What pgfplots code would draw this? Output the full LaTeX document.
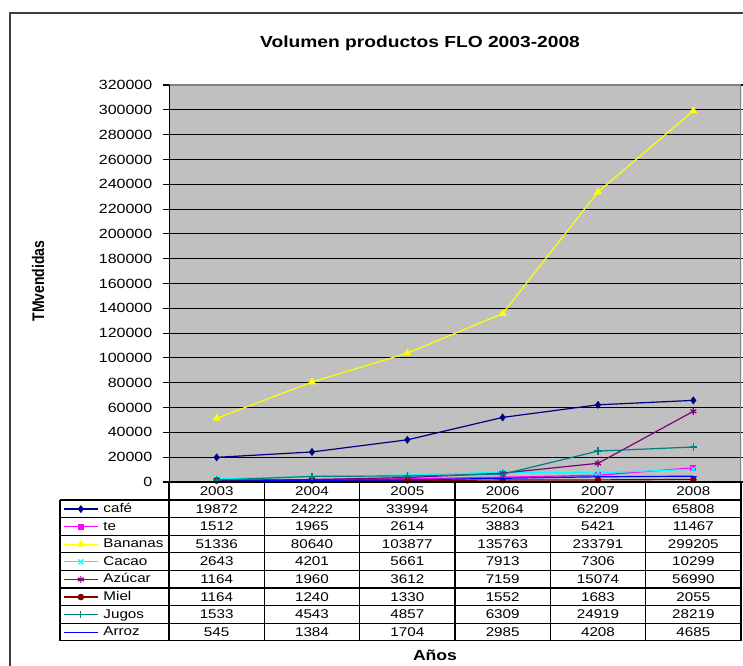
\documentclass[border=0pt]{standalone}
\usepackage{pgfplots}
\pgfplotsset{compat=1.18}
\usepackage{pgfplotstable}
\usepackage{fontspec}
\setmainfont{Liberation Sans}[FakeStretch=1.2]
\newfontfamily\plainsans{Liberation Sans}
\definecolor{excelgray}{HTML}{C0C0C0}
\definecolor{ccafe}{HTML}{000080}
\definecolor{cte}{HTML}{FF00FF}
\definecolor{cban}{HTML}{FFFF00}
\definecolor{ccacao}{HTML}{00FFFF}
\definecolor{cazu}{HTML}{800080}
\definecolor{cmiel}{HTML}{800000}
\definecolor{cjugos}{HTML}{008080}
\definecolor{carroz}{HTML}{0000FF}

\pgfplotstableread{
x cafe te bananas cacao azucar miel jugos arroz
0 19872 1512 51336 2643 1164 1164 1533 545
1 24222 1965 80640 4201 1960 1240 4543 1384
2 33994 2614 103877 5661 3612 1330 4857 1704
3 52064 3883 135763 7913 7159 1552 6309 2985
4 62209 5421 233791 7306 15074 1683 24919 4208
5 65808 11467 299205 10299 56990 2055 28219 4685
}\datatable

\begin{document}
\begin{tikzpicture}
\path[use as bounding box] (0pt,0pt) rectangle (557.25pt,-499.5pt);
\begin{axis}[
  at={(126.75pt,-361.5pt)}, anchor=south west,
  scale only axis, width=429pt, height=297.75pt,
  xmin=-0.5, xmax=5.5, ymin=0, ymax=320000,
  ytick={0,20000,...,320000},
  xtick={0,1,2,3,4,5},
  xticklabels={2003,2004,2005,2006,2007,2008},
  major x tick style={draw=none},
  xticklabel style={anchor=center, yshift=-2pt, font=\fontsize{9.5}{11}\selectfont},
  yticklabel style={font=\fontsize{10}{12}\selectfont, xshift=-4.5pt},
  scaled y ticks=false,
  /pgf/number format/fixed,
  /pgf/number format/1000 sep={},
  /pgf/number format/assume math mode=true,
  axis background/.style={fill=excelgray},
  ymajorgrids, grid style={black, line width=0.8pt},
  tick align=outside, major tick length=4.5pt,
  ytick style={black, line width=0.8pt},
  axis line style={draw=none},
  legend style={at={(axis description cs:-0.1853,-0.04534)}, anchor=north west,
    draw=none, fill=none, inner xsep=0pt, inner ysep=0pt, row sep=0pt, column sep=3.75pt,
    font=\fontsize{9.5}{11}\selectfont,
    nodes={inner sep=0pt, minimum height=13.2pt, text height=7pt, text depth=2pt, anchor=west}},
  legend cell align=left,
  legend image code/.code={\draw[mark repeat=2,mark phase=2,#1] plot coordinates {(0pt,0pt) (12.75pt,0pt) (25.5pt,0pt)};},
  every axis plot/.append style={line width=0.9pt, mark size=2.3pt},
]
\draw[gray, line width=0.8pt] (rel axis cs:0,1) -- (rel axis cs:1,1) -- (rel axis cs:1,0);
\draw[black, line width=1pt] (rel axis cs:0,0) -- (rel axis cs:0,1);
\addplot[ccafe, mark=diamond*] table[x=x,y=cafe] {\datatable};
\addlegendentry{café}
\addplot[cte, mark=square*, mark size=1.8pt] table[x=x,y=te] {\datatable};
\addlegendentry{te}
\addplot[cban, mark=triangle*, mark size=2.6pt] table[x=x,y=bananas] {\datatable};
\addlegendentry{Bananas}
\addplot[ccacao, mark=x, mark size=2.6pt] table[x=x,y=cacao] {\datatable};
\addlegendentry{Cacao}
\addplot[cazu, mark=asterisk, mark size=2.6pt] table[x=x,y=azucar] {\datatable};
\addlegendentry{Azúcar}
\addplot[cmiel, mark=*, mark size=2pt] table[x=x,y=miel] {\datatable};
\addlegendentry{Miel}
\addplot[cjugos, mark=+, mark size=2.8pt] table[x=x,y=jugos] {\datatable};
\addlegendentry{Jugos}
\addplot[carroz, mark=-, mark size=2.5pt] table[x=x,y=arroz] {\datatable};
\addlegendentry{Arroz}
\end{axis}
\begin{scope}[x=0.75pt,y=-0.75pt]
  % outer frame
  \draw[black!75, line width=1.1pt] (10,700) -- (10,13) -- (760,13);
  % title
  \node[font=\fontsize{12}{14}\selectfont\bfseries] at (420,43) {Volumen productos FLO 2003-2008};
  % y label
  \node[rotate=90, font=\plainsans\fontsize{10.5}{12}\selectfont\bfseries] at (38,281) {\scalebox{1}[1.2]{TMvendidas}};
  % x label
  \node[font=\fontsize{11}{13}\selectfont\bfseries] at (435,655) {Años};
  % table grid
  \foreach \k in {0,...,6} {\draw[black, line width=0.9pt] ({169+95.333*\k},482) -- ({169+95.333*\k},640.8);}
  \draw[black, line width=0.9pt] (60,500) -- (60,640.8);
  \foreach \r in {0,...,8} {\draw[black, line width=0.9pt] (60,{500+17.6*\r}) -- (741,{500+17.6*\r});}
  \draw[black, line width=0.9pt] (169,482) -- (741,482);
  % table numbers
  \foreach \vals [count=\i from 0] in {
    {19872,24222,33994,52064,62209,65808},
    {1512,1965,2614,3883,5421,11467},
    {51336,80640,103877,135763,233791,299205},
    {2643,4201,5661,7913,7306,10299},
    {1164,1960,3612,7159,15074,56990},
    {1164,1240,1330,1552,1683,2055},
    {1533,4543,4857,6309,24919,28219},
    {545,1384,1704,2985,4208,4685}} {
    \foreach \v [count=\j from 0] in \vals {
      \node[font=\fontsize{9.5}{11}\selectfont] at ({169+95.333*(\j+0.5)},{500+17.6*(\i+0.5)}) {\v};
    }
  }
\end{scope}
\end{tikzpicture}
\end{document}
